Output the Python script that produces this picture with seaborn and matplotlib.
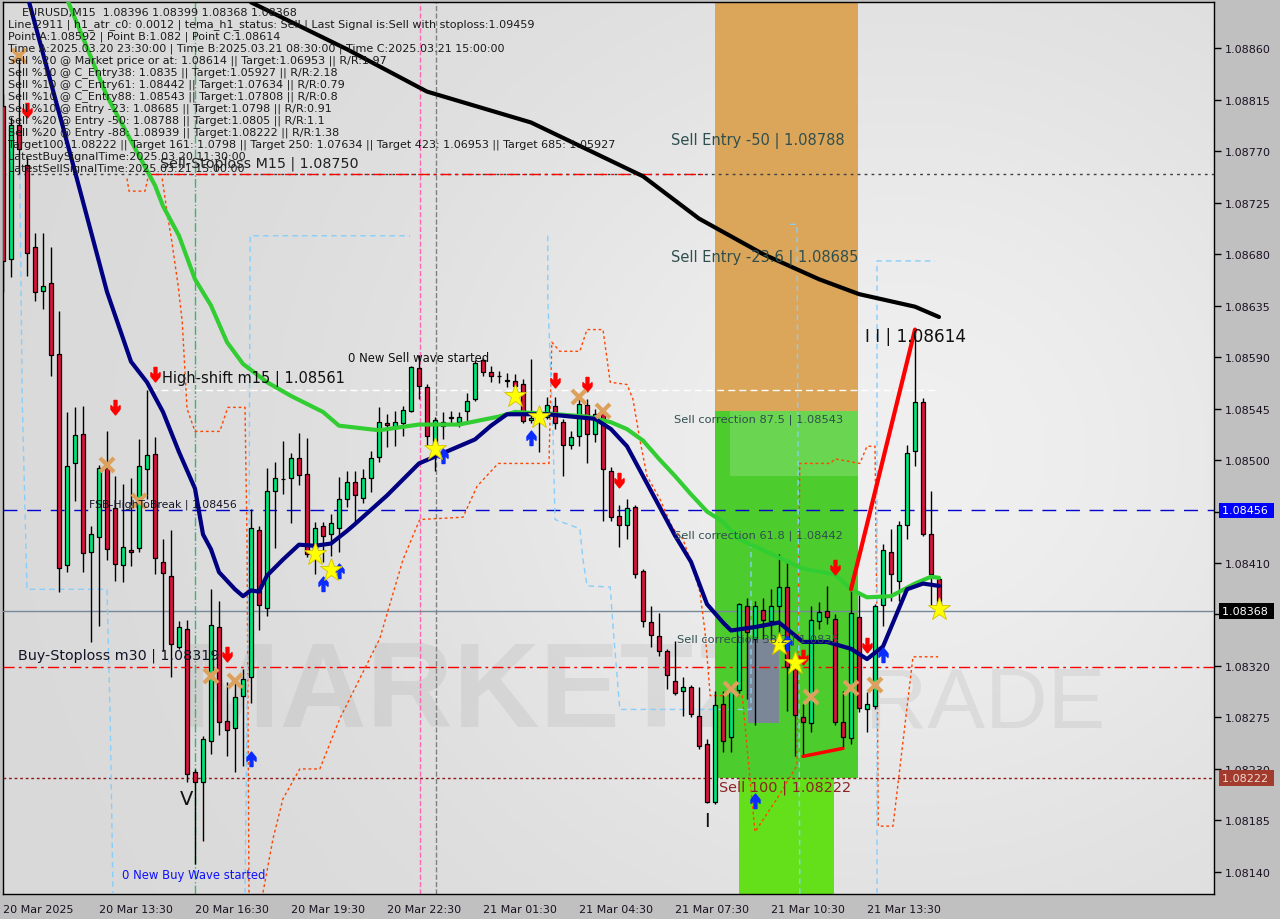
import numpy as np
import matplotlib
matplotlib.use("Agg")
import matplotlib.pyplot as plt
import matplotlib.transforms as mtransforms
from matplotlib.patches import Rectangle
from matplotlib.path import Path
import seaborn as sns

# EURUSD M15 candles, 20 Mar 10:30 -> 21 Mar 15:45
opens = [1.08809, 1.08676, 1.08793, 1.08758, 1.08686, 1.08648, 1.08655, 1.08593, 1.08408, 1.08497,
         1.08523, 1.08420, 1.08433, 1.08493, 1.08458, 1.08408, 1.08421, 1.08423, 1.08492, 1.08505,
         1.08411, 1.08399, 1.08337, 1.08352, 1.08227, 1.08219, 1.08254, 1.08354, 1.08272, 1.08266,
         1.08294, 1.08310, 1.08439, 1.08371, 1.08473, 1.08483, 1.08484, 1.08502, 1.08488, 1.08420,
         1.08442, 1.08435, 1.08441, 1.08466, 1.08481, 1.08467, 1.08484, 1.08503, 1.08532, 1.08529,
         1.08532, 1.08543, 1.08580, 1.08564, 1.08512, 1.08530, 1.08537, 1.08533, 1.08543, 1.08553,
         1.08587, 1.08577, 1.08573, 1.08569, 1.08569, 1.08566, 1.08535, 1.08540, 1.08538, 1.08547,
         1.08533, 1.08513, 1.08521, 1.08548, 1.08523, 1.08542, 1.08490, 1.08451, 1.08443, 1.08459,
         1.08403, 1.08358, 1.08346, 1.08333, 1.08307, 1.08298, 1.08302, 1.08276, 1.08252, 1.08201,
         1.08287, 1.08258, 1.08299, 1.08372, 1.08344, 1.08369, 1.08359, 1.08372, 1.08389, 1.08317,
         1.08275, 1.08270, 1.08359, 1.08368, 1.08361, 1.08271, 1.08257, 1.08363, 1.08282, 1.08285,
         1.08373, 1.08420, 1.08394, 1.08443, 1.08508, 1.08551, 1.08435, 1.08396]
highs = [1.08820, 1.08800, 1.08855, 1.08765, 1.08698, 1.08698, 1.08686, 1.08630, 1.08542, 1.08546,
         1.08547, 1.08442, 1.08496, 1.08525, 1.08486, 1.08479, 1.08484, 1.08518, 1.08561, 1.08520,
         1.08431, 1.08439, 1.08359, 1.08360, 1.08230, 1.08259, 1.08387, 1.08377, 1.08306, 1.08306,
         1.08317, 1.08457, 1.08442, 1.08493, 1.08498, 1.08517, 1.08506, 1.08524, 1.08519, 1.08446,
         1.08446, 1.08453, 1.08485, 1.08490, 1.08490, 1.08492, 1.08508, 1.08546, 1.08540, 1.08543,
         1.08547, 1.08582, 1.08592, 1.08566, 1.08538, 1.08542, 1.08543, 1.08542, 1.08559, 1.08587,
         1.08589, 1.08582, 1.08578, 1.08576, 1.08575, 1.08571, 1.08588, 1.08546, 1.08555, 1.08555,
         1.08536, 1.08525, 1.08553, 1.08553, 1.08545, 1.08545, 1.08494, 1.08461, 1.08466, 1.08461,
         1.08405, 1.08372, 1.08366, 1.08335, 1.08342, 1.08310, 1.08303, 1.08302, 1.08256, 1.08298,
         1.08298, 1.08303, 1.08375, 1.08379, 1.08377, 1.08379, 1.08387, 1.08418, 1.08413, 1.08322,
         1.08287, 1.08372, 1.08376, 1.08390, 1.08365, 1.08298, 1.08387, 1.08383, 1.08297, 1.08374,
         1.08427, 1.08440, 1.08447, 1.08513, 1.08614, 1.08554, 1.08473, 1.08399]
lows = [1.08647, 1.08660, 1.08750, 1.08661, 1.08639, 1.08632, 1.08573, 1.08385, 1.08402, 1.08464,
        1.08402, 1.08341, 1.08355, 1.08413, 1.08394, 1.08393, 1.08407, 1.08420, 1.08466, 1.08400,
        1.08333, 1.08310, 1.08335, 1.08219, 1.08147, 1.08167, 1.08243, 1.08260, 1.08241, 1.08227,
        1.08233, 1.08288, 1.08351, 1.08364, 1.08423, 1.08470, 1.08445, 1.08478, 1.08415, 1.08400,
        1.08411, 1.08416, 1.08420, 1.08459, 1.08444, 1.08462, 1.08472, 1.08498, 1.08511, 1.08512,
        1.08521, 1.08542, 1.08553, 1.08512, 1.08490, 1.08518, 1.08531, 1.08529, 1.08533, 1.08552,
        1.08573, 1.08568, 1.08567, 1.08564, 1.08560, 1.08532, 1.08532, 1.08507, 1.08536, 1.08527,
        1.08486, 1.08510, 1.08512, 1.08497, 1.08516, 1.08447, 1.08447, 1.08424, 1.08431, 1.08397,
        1.08354, 1.08337, 1.08329, 1.08300, 1.08295, 1.08276, 1.08275, 1.08247, 1.08200, 1.08199,
        1.08245, 1.08245, 1.08296, 1.08291, 1.08268, 1.08344, 1.08344, 1.08335, 1.08281, 1.08241,
        1.08241, 1.08262, 1.08352, 1.08357, 1.08268, 1.08249, 1.08252, 1.08280, 1.08262, 1.08282,
        1.08355, 1.08377, 1.08377, 1.08431, 1.08495, 1.08434, 1.08372, 1.08368]
closes = [1.08674, 1.08793, 1.08772, 1.08681, 1.08647, 1.08652, 1.08592, 1.08406, 1.08495, 1.08522,
          1.08419, 1.08435, 1.08493, 1.08422, 1.08409, 1.08424, 1.08420, 1.08495, 1.08504, 1.08414,
          1.08401, 1.08339, 1.08354, 1.08226, 1.08219, 1.08256, 1.08356, 1.08271, 1.08264, 1.08293,
          1.08309, 1.08441, 1.08373, 1.08473, 1.08484, 1.08483, 1.08502, 1.08487, 1.08418, 1.08441,
          1.08434, 1.08445, 1.08466, 1.08481, 1.08469, 1.08484, 1.08502, 1.08533, 1.08531, 1.08533,
          1.08544, 1.08581, 1.08565, 1.08521, 1.08535, 1.08533, 1.08538, 1.08538, 1.08552, 1.08585,
          1.08577, 1.08573, 1.08573, 1.08569, 1.08565, 1.08534, 1.08537, 1.08536, 1.08548, 1.08532,
          1.08513, 1.08520, 1.08549, 1.08523, 1.08540, 1.08492, 1.08450, 1.08443, 1.08458, 1.08400,
          1.08359, 1.08347, 1.08333, 1.08312, 1.08296, 1.08302, 1.08278, 1.08250, 1.08201, 1.08286,
          1.08254, 1.08298, 1.08374, 1.08350, 1.08372, 1.08360, 1.08372, 1.08389, 1.08319, 1.08277,
          1.08271, 1.08360, 1.08367, 1.08363, 1.08271, 1.08258, 1.08366, 1.08283, 1.08287, 1.08372,
          1.08421, 1.08400, 1.08443, 1.08506, 1.08551, 1.08435, 1.08400, 1.08368]

tick_bars = [0, 12, 24, 36, 48, 60, 72, 84, 96, 108]
tick_labels = ["20 Mar 2025", "20 Mar 13:30", "20 Mar 16:30", "20 Mar 19:30", "20 Mar 22:30",
               "21 Mar 01:30", "21 Mar 04:30", "21 Mar 07:30", "21 Mar 10:30", "21 Mar 13:30"]

# moving averages (bar index, price)
navy_bars = [3, 9, 13, 16, 18, 20, 22, 24, 25, 26, 27, 29, 30, 31, 32, 33, 35, 37, 39, 41,
             43, 44, 48, 52, 54, 57, 59, 61, 63, 66, 68, 71, 74, 76, 78, 80, 82, 84, 86,
             88, 90, 91, 94, 97, 100, 103, 106, 108, 110, 113, 115, 117]
navy_vals = [1.08907, 1.08752, 1.08647, 1.08586, 1.08568, 1.08542, 1.08507, 1.08475, 1.08435, 1.08422,
             1.08402, 1.08387, 1.08381, 1.08386, 1.08385, 1.08399, 1.08413, 1.08426, 1.08425, 1.08427,
             1.08438, 1.08444, 1.08469, 1.08497, 1.08503, 1.08512, 1.08518, 1.08530, 1.08540, 1.08540,
             1.08540, 1.08538, 1.08536, 1.08527, 1.08512, 1.08486, 1.08460, 1.08434, 1.08411,
             1.08374, 1.08358, 1.08351, 1.08354, 1.08358, 1.08341, 1.08341, 1.08335, 1.08326, 1.08337,
             1.08387, 1.08392, 1.08390]
green_bars = [8, 13, 19, 20, 22, 24, 26, 28, 30, 33, 36, 40, 42, 47, 52, 57, 62, 64, 69, 73,
              76, 78, 80, 82, 84, 86, 88, 90, 92, 96, 100, 104, 106, 108, 111, 114, 116, 117]
green_vals = [1.08903, 1.08818, 1.08740, 1.08722, 1.08696, 1.08658, 1.08635, 1.08603, 1.08584, 1.08568,
              1.08556, 1.08542, 1.08530, 1.08526, 1.08531, 1.08531, 1.08538, 1.08542, 1.08540, 1.08538,
              1.08533, 1.08527, 1.08517, 1.08501, 1.08486, 1.08470, 1.08455, 1.08446, 1.08431, 1.08418,
              1.08405, 1.08400, 1.08387, 1.08380, 1.08381, 1.08392, 1.08398, 1.08397]
black_bars = [31, 43, 53, 66, 80, 87, 95, 102, 107, 114, 117]
black_vals = [1.08900, 1.08859, 1.08822, 1.08795, 1.08748, 1.08711, 1.08680, 1.08658, 1.08645, 1.08634, 1.08625]

# stepped channel lines (nan = gap)
nan = np.nan
env_bars = [15.5, 15.75, 17.75, 18.1, nan, 19.9, 20.5, 21.1, 21.9, 22.4, 22.75, 23.0, 24.0, 27.1, 28.1,
            30.25, 30.5, 30.75, nan, 32.5, 33.75, 35.0, 37.1, 39.6, 42.1, 47.1, 50.0, 52.1, 57.5, 59.25,
            61.9, 68.25, 68.6, 69.6, 72.1, 73.0, 75.0, 75.9, 78.0, 78.75, 79.6, 80.5, 82.1, 83.75, 85.0,
            86.25, 87.1, 87.75, 88.4, 92.4, 94.0, 96.75, 99.25, 99.6, 103.4, 104.0, 107.1, 108.0, 109.0,
            109.25, 109.4, 111.25, 113.75, 116.9]
env_vals = [1.08746, 1.08735, 1.08735, 1.08746, nan, 1.08746, 1.08717, 1.08691, 1.08652, 1.08621, 1.08577,
            1.08545, 1.08525, 1.08525, 1.08546, 1.08546, 1.08431, 1.08121, nan, 1.08122, 1.08169, 1.08204,
            1.08230, 1.08230, 1.08274, 1.08344, 1.08413, 1.08448, 1.08450, 1.08477, 1.08497, 1.08497,
            1.08603, 1.08595, 1.08595, 1.08614, 1.08614, 1.08568, 1.08566, 1.08553, 1.08518, 1.08486,
            1.08466, 1.08440, 1.08431, 1.08405, 1.08385, 1.08350, 1.08294, 1.08294, 1.08175, 1.08204,
            1.08233, 1.08497, 1.08497, 1.08501, 1.08497, 1.08512, 1.08512, 1.08352, 1.08180, 1.08180,
            1.08328, 1.08328]
lb_bars = [2.1, 2.4, 3.0, 13.0, 13.4, 13.75, nan, 30.25, 30.75, 30.9, 50.9, nan, 68.1, 68.1, 68.75,
           69.0, 72.1, 72.5, 73.0, 75.9, 76.25, 77.1, 93.5, 93.5, nan, 98.4, 99.25, 99.6, nan,
           109.25, 109.25, 116.5]
lb_vals = [1.08750, 1.08553, 1.08387, 1.08387, 1.08274, 1.08121, nan, 1.08121, 1.08431, 1.08696, 1.08696,
           nan, 1.08696, 1.08641, 1.08524, 1.08448, 1.08440, 1.08413, 1.08390, 1.08389, 1.08355, 1.08282,
           1.08282, 1.08431, nan, 1.08706, 1.08706, 1.08121, nan, 1.08121, 1.08674, 1.08674]

# signal markers (bar index, price)
star_bars = [39, 41, 54, 64, 67, 97, 99, 117]
star_vals = [1.08418, 1.08404, 1.08510, 1.08556, 1.08538, 1.08339, 1.08323, 1.08370]
cross_bars = [2, 13, 17, 26, 29, 72, 75, 91, 101, 106, 109]
cross_vals = [1.08853, 1.08496, 1.08464, 1.08311, 1.08307, 1.08555, 1.08543, 1.08300, 1.08293, 1.08301, 1.08303]
down_bars = [3, 14, 19, 28, 69, 73, 77, 100, 104, 108]
down_vals = [1.08804, 1.08545, 1.08573, 1.08329, 1.08568, 1.08565, 1.08481, 1.08326, 1.08405, 1.08337]
up_bars = [31, 40, 42, 55, 66, 94, 98, 110]
up_vals = [1.08240, 1.08393, 1.08405, 1.08505, 1.08521, 1.08204, 1.08342, 1.08331]
abc_bars = [106, 114]
abc_vals = [1.08387, 1.08614]
bc_bars = [100, 105]
bc_vals = [1.08241, 1.08248]

# levels
sell_stoploss_m15 = 1.08750
high_shift_m15 = 1.08561
fsb_high = 1.08456
bid_price = 1.08368
buy_stoploss_m30 = 1.08319
sell_100 = 1.08222
corr_88 = 1.08543
zone_x0, zone_x1 = 89.0, 106.875
low_zone_x0, low_zone_x1 = 92.0, 103.875

info_lines = [
    "Line:2911 | h1_atr_c0: 0.0012 | tema_h1_status: Sell | Last Signal is:Sell with stoploss:1.09459",
    "Point A:1.08592 | Point B:1.082 | Point C:1.08614",
    "Time A:2025.03.20 23:30:00 | Time B:2025.03.21 08:30:00 | Time C:2025.03.21 15:00:00",
    "Sell %20 @ Market price or at: 1.08614 || Target:1.06953 || R/R:1.97",
    "Sell %10 @ C_Entry38: 1.0835 || Target:1.05927 || R/R:2.18",
    "Sell %10 @ C_Entry61: 1.08442 || Target:1.07634 || R/R:0.79",
    "Sell %10 @ C_Entry88: 1.08543 || Target:1.07808 || R/R:0.8",
    "Sell %10 @ Entry -23: 1.08685 || Target:1.0798 || R/R:0.91",
    "Sell %20 @ Entry -50: 1.08788 || Target:1.0805 || R/R:1.1",
    "Sell %20 @ Entry -88: 1.08939 || Target:1.08222 || R/R:1.38",
    "Target100: 1.08222 || Target 161: 1.0798 || Target 250: 1.07634 || Target 423: 1.06953 || Target 685: 1.05927",
    "LatestBuySignalTime:2025.03.20 11:30:00",
    "LatestSellSignalTime:2025.03.21 15:00:00",
]

sns.set_style("white")
plt.rcParams['font.family'] = ['DejaVu Sans']
LAB = 'DejaVu Sans'

W, H = 1280, 920
fig = plt.figure(figsize=(W / 100, H / 100), dpi=100, facecolor='#c0c0c0')
ax = fig.add_axes([3 / W, 25 / H, 1211 / W, 892 / H])
x_min, x_max = 0.0, 151.375
y_min, y_max = 1.081207, 1.089003

# soft gray background
gx, gy = np.meshgrid(np.linspace(0, 1211, 240), np.linspace(0, 892, 180))
shade = 0.85 + 0.09 * np.exp(-((gx - 900) / 520) ** 2 - ((gy - 450) / 480) ** 2)
ax.imshow(np.dstack([shade] * 3), extent=[x_min, x_max, y_min, y_max], origin='upper',
          aspect='auto', zorder=0, interpolation='bilinear')

# watermark
wm1 = ax.text(180 / W, 1 - 727 / H, "MARKETZI", transform=fig.transFigure, fontsize=80,
              fontweight='bold', family='Liberation Sans', color='#8c8c8c', alpha=0.15, zorder=0.5,
              va='baseline')
wm2 = ax.text(812 / W, 1 - 727 / H, "TRADE", transform=fig.transFigure, fontsize=80,
              family='Liberation Sans', color='#8c8c8c', alpha=0.15, zorder=0.5, va='baseline')

# zones
ax.add_patch(Rectangle((zone_x0, corr_88), zone_x1 - zone_x0, y_max - corr_88 + 0.001,
                       fc='#dba55a', ec='none', zorder=1.5))
ax.add_patch(Rectangle((zone_x0, sell_100), zone_x1 - zone_x0, corr_88 - sell_100,
                       fc='#4ccd2d', ec='none', zorder=1.5))
ax.add_patch(Rectangle((90.9, 1.08486), zone_x1 - 90.9, corr_88 - 1.08486,
                       fc='#6ad550', ec='none', zorder=1.6))
ax.add_patch(Rectangle((low_zone_x0, y_min - 0.001), low_zone_x1 - low_zone_x0, sell_100 - y_min + 0.001,
                       fc='#64e01a', ec='none', zorder=1.5))
ax.add_patch(Rectangle((93.1, 1.08270), 3.9, 0.00074, fc='#7b8796', ec='none', zorder=1.7))

# vertical markers
ax.axvline(24, color='#3cb371', ls='-.', lw=1, zorder=2)
ax.axvline(52.1, color='#ff69b4', ls='--', lw=1, zorder=2)
ax.axvline(54.1, color='#808080', ls='--', lw=1, zorder=2)

# level lines
ax.axhline(sell_stoploss_m15, color='#404040', lw=1, ls=(0, (2, 3)), zorder=3)
ax.hlines(sell_stoploss_m15, 18.5, 88, color='red', lw=1, ls=(0, (8, 3, 2, 3)), zorder=3)
ax.hlines(high_shift_m15, 18.4, 117, color='white', lw=1, ls=(0, (5, 3)), zorder=3)
ax.axhline(fsb_high, color='#0000cd', lw=1, ls=(0, (10, 7)), zorder=3)
ax.axhline(bid_price, color='#778899', lw=1, zorder=3)
ax.axhline(buy_stoploss_m30, color='red', lw=1, ls=(0, (8, 3, 2, 3)), zorder=3)
ax.axhline(sell_100, color='#8b1a1a', lw=1, ls=(0, (2, 2)), zorder=3)

# channel lines
ax.plot(env_bars, env_vals, color='#ff4500', lw=1, ls=(0, (2, 2)), zorder=4)
ax.plot(lb_bars, lb_vals, color='#87cefa', lw=1, ls=(0, (4, 3)), zorder=4)

# candles
o, h, l, c = map(np.array, (opens, highs, lows, closes))
bars = np.arange(len(o))
body_lo = np.minimum(o, c)
body_h = np.maximum(np.abs(c - o), 0.000006)
cols = np.where(c >= o, '#00e676', '#dc143c')
ax.vlines(bars, l, h, color='black', lw=1, zorder=5)
ax.bar(bars, body_h, bottom=body_lo, width=0.62, color=cols, edgecolor='black', linewidth=0.9, zorder=6)

# moving averages
sns.lineplot(x=black_bars, y=black_vals, ax=ax, color='black', lw=3, zorder=7)
sns.lineplot(x=green_bars, y=green_vals, ax=ax, color='#32cd32', lw=3, zorder=7)
sns.lineplot(x=navy_bars, y=navy_vals, ax=ax, color='#000080', lw=3, zorder=7)

ax.plot(abc_bars, abc_vals, color='red', lw=3, zorder=8)
ax.plot(bc_bars, bc_vals, color='red', lw=2.5, zorder=8)

# markers
dv = [(-0.16, 1.0), (0.16, 1.0), (0.16, 0.1), (0.5, 0.42), (0.5, 0.02), (0.0, -0.6),
      (-0.5, 0.02), (-0.5, 0.42), (-0.16, 0.1), (-0.16, 1.0)]
down_arrow = Path(dv, closed=True)
up_arrow = Path([(x, -y) for x, y in dv], closed=True)
ax.plot(down_bars, down_vals, ls='none', marker=down_arrow, ms=13, color='#ff0000', mec='#ff0000', zorder=9)
ax.plot(up_bars, up_vals, ls='none', marker=up_arrow, ms=13, color='#0a2cff', mec='#0a2cff', zorder=9)
ax.plot(cross_bars, cross_vals, ls='none', marker='x', ms=10, mew=3, color='#dda15e', zorder=9)
ax.plot(star_bars, star_vals, ls='none', marker='*', ms=17, color='#ffff00', mec='#d4c000', mew=0.6, zorder=9)

# level labels
def label(x, y, s, size, color='#101010', ha='left'):
    ax.text(x, y, s, fontsize=size, color=color, family=LAB, ha=ha, va='center', zorder=12)

label(83.5, 1.08780, "Sell Entry -50 | 1.08788", 10.5, '#2f4f4f')
label(83.5, 1.08677, "Sell Entry -23.6 | 1.08685", 10.5, '#2f4f4f')
label(83.875, 1.08536, "Sell correction 87.5 | 1.08543", 8.2, '#2f4f4f')
label(83.875, 1.08435, "Sell correction 61.8 | 1.08442", 8.2, '#2f4f4f')
label(84.25, 1.08344, "Sell correction 38.2 | 1.0835", 8.2, '#2f4f4f')
label(89.5, 1.08214, "Sell 100 | 1.08222", 10.4, '#8b2323')
label(19.6, 1.08760, "Sell-Stoploss M15 | 1.08750", 10.3, '#202020')
label(19.9, 1.08572, "High-shift m15 | 1.08561", 10.5)
label(10.75, 1.08462, "FSB-HighToBreak | 1.08456", 7.8, '#141428')
label(1.9, 1.08330, "Buy-Stoploss m30 | 1.08319", 10.3, '#141428')
label(43.1, 1.08590, "0 New Sell wave started", 8.4)
label(14.9, 1.08138, "0 New Buy Wave started", 8.4, '#1010ff')
label(107.75, 1.08608, "I I | 1.08614", 12.2)
label(22.9, 1.08204, "V", 14, ha='center')
label(88.0, 1.08185, "I", 14, ha='center')

# info block
fig.text(22 / W, 1 - 13 / H, "EURUSD,M15  1.08396 1.08399 1.08368 1.08368", fontsize=8,
         family=LAB, color='#1a1a1a', va='center')
for k, line in enumerate(info_lines):
    fig.text(8 / W, 1 - (25 + 12 * k) / H, line, fontsize=8, family=LAB, color='#1a1a1a', va='center')

# axes
ax.set_xlim(x_min, x_max)
ax.set_ylim(y_min, y_max)
yt = np.round(np.arange(1.08140, 1.08861, 0.00045), 5)
hidden = [1.08365, 1.08455]  # covered by the price boxes
ax.set_yticks(yt)
ax.set_yticklabels(["" if any(abs(v - hv) < 1e-7 for hv in hidden) else f"{v:.5f}" for v in yt])
ax.yaxis.tick_right()
ax.set_xticks(tick_bars)
ax.set_xticklabels(tick_labels, ha='left')
ax.tick_params(axis='y', direction='out', length=5, width=1, pad=3, labelsize=8,
               color='black', labelcolor='#1a1020')
ax.tick_params(axis='x', direction='out', length=5, width=1, pad=2, labelsize=8,
               color='black', labelcolor='#1a1020')
ax.set_xlabel("")
ax.set_ylabel("")
for sp in ax.spines.values():
    sp.set_visible(True)
    sp.set_color('black')
    sp.set_linewidth(1)

# price boxes on the right scale
trans = mtransforms.blended_transform_factory(ax.transAxes, ax.transData)
for val, fc, tc in [(fsb_high, '#0000ff', 'white'), (bid_price, 'black', 'white'),
                    (sell_100, '#a33a2e', '#f0dcd0')]:
    ax.text(1.0066, val, f"{val:.5f} ", transform=trans, ha='left', va='center', fontsize=8,
            color=tc, bbox=dict(boxstyle='square,pad=0.25', fc=fc, ec='none'), zorder=20, clip_on=False)

# fit watermark widths
fig.canvas.draw()
r = fig.canvas.get_renderer()
for t, target in [(wm1, 620), (wm2, 293)]:
    wpx = t.get_window_extent(r).width
    t.set_fontsize(t.get_fontsize() * target / wpx)

fig.savefig("out.png", dpi=100, facecolor=fig.get_facecolor())
